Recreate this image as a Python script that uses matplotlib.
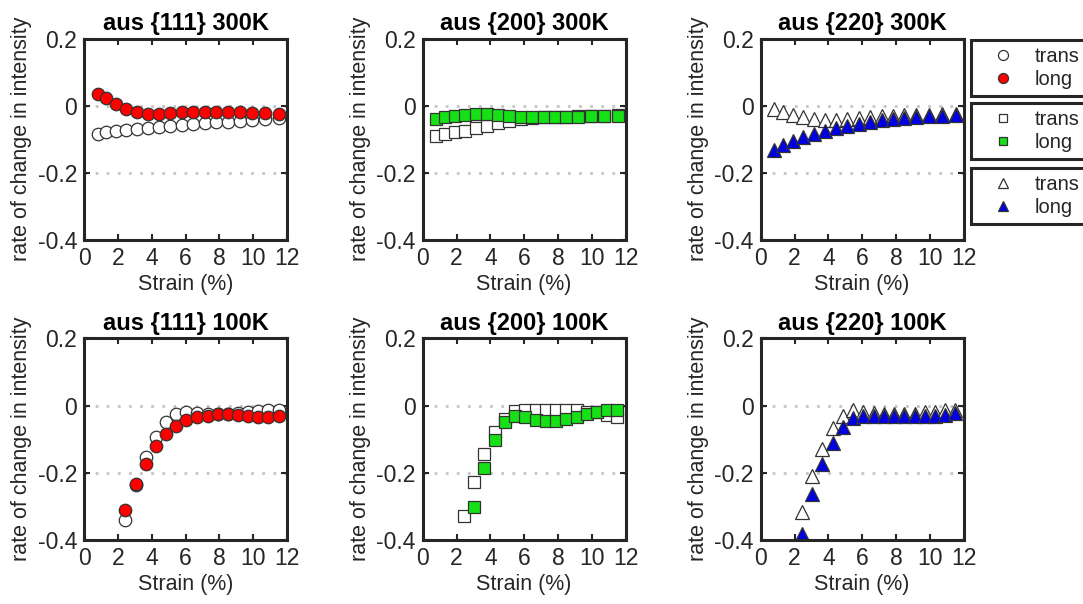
import numpy as np
import matplotlib
matplotlib.use("Agg")
import matplotlib.pyplot as plt

plt.rcParams['font.family'] = ['Liberation Sans', 'DejaVu Sans']

# strain steps (%)
x_300 = [0.8, 1.3, 1.9, 2.5, 3.15, 3.8, 4.45, 5.1, 5.8, 6.45, 7.15, 7.8, 8.5, 9.2, 9.95, 10.7, 11.55]
x_100 = [2.45, 3.05, 3.65, 4.25, 4.85, 5.45, 6.05, 6.7, 7.3, 7.9, 8.5, 9.1, 9.7, 10.3, 10.9, 11.5]

# rate of change in intensity, 300K
y111_300_trans = [-0.085, -0.079, -0.075, -0.072, -0.069, -0.065, -0.062, -0.060, -0.057,
                  -0.055, -0.052, -0.050, -0.048, -0.046, -0.043, -0.040, -0.036]
y111_300_long = [0.036, 0.023, 0.006, -0.010, -0.020, -0.025, -0.025, -0.022, -0.020,
                 -0.019, -0.019, -0.018, -0.019, -0.020, -0.021, -0.022, -0.024]
y200_300_trans = [-0.089, -0.084, -0.079, -0.074, -0.067, -0.060, -0.052, -0.045, -0.040,
                  -0.036, -0.035, -0.034, -0.033, -0.032, -0.031, -0.030, -0.029]
y200_300_long = [-0.040, -0.034, -0.030, -0.027, -0.025, -0.025, -0.027, -0.030, -0.033,
                 -0.034, -0.035, -0.035, -0.034, -0.034, -0.032, -0.031, -0.030]
y220_300_trans = [-0.010, -0.020, -0.028, -0.034, -0.039, -0.042, -0.042, -0.039, -0.037,
                  -0.034, -0.032, -0.030, -0.029, -0.028, -0.028, -0.026, -0.025]
y220_300_long = [-0.131, -0.118, -0.106, -0.094, -0.084, -0.074, -0.067, -0.060, -0.054,
                 -0.049, -0.044, -0.040, -0.037, -0.034, -0.032, -0.030, -0.028]

# rate of change in intensity, 100K
y111_100_trans = [-0.341, -0.236, -0.154, -0.092, -0.050, -0.026, -0.020, -0.023,
                  -0.025, -0.024, -0.024, -0.022, -0.018, -0.016, -0.014, -0.012]
y111_100_long = [-0.310, -0.234, -0.173, -0.121, -0.085, -0.060, -0.042, -0.034,
                 -0.030, -0.026, -0.026, -0.028, -0.031, -0.033, -0.033, -0.031]
y200_100_trans = [-0.330, -0.227, -0.144, -0.079, -0.039, -0.016, -0.014, -0.014,
                  -0.014, -0.014, -0.014, -0.014, -0.018, -0.020, -0.028, -0.033]
y200_100_long = [np.nan, -0.301, -0.185, -0.101, -0.049, -0.030, -0.035, -0.042,
                 -0.045, -0.045, -0.039, -0.033, -0.026, -0.020, -0.014, -0.012]
y220_100_trans = [-0.318, -0.210, -0.128, -0.067, -0.030, -0.013, -0.018, -0.023,
                  -0.025, -0.025, -0.025, -0.025, -0.020, -0.018, -0.013, -0.013]
y220_100_long = [-0.383, -0.264, -0.175, -0.111, -0.064, -0.037, -0.032, -0.030,
                 -0.030, -0.032, -0.032, -0.032, -0.032, -0.032, -0.028, -0.023]

planes = ['{111}', '{200}', '{220}']
markers = ['o', 's', '^']
msizes = [9, 8.5, 10.5]
leg_scale = [0.8, 0.6, 0.75]
colors = ['#ff0000', '#16e016', '#0000e0']

data = {
    ('300K', 0): (x_300, y111_300_trans, y111_300_long),
    ('300K', 1): (x_300, y200_300_trans, y200_300_long),
    ('300K', 2): (x_300, y220_300_trans, y220_300_long),
    ('100K', 0): (x_100, y111_100_trans, y111_100_long),
    ('100K', 1): (x_100, y200_100_trans, y200_100_long),
    ('100K', 2): (x_100, y220_100_trans, y220_100_long),
}

dark = '#262626'
fig = plt.figure(figsize=(10.83, 6.04), dpi=100)

lefts = [0.0776, 0.3903, 0.7024]
bottoms = {'300K': 0.6026, '100K': 0.106}
w, h = 0.1874, 0.3336

legend_handles = []
for temp in ['300K', '100K']:
    for j in range(3):
        ax = fig.add_axes([lefts[j], bottoms[temp], w, h])
        x, yt, yl = data[(temp, j)]
        ht, = ax.plot(x, yt, linestyle='none', marker=markers[j], ms=msizes[j],
                      mfc='white', mec='#333333', mew=0.9, label='trans')
        hl, = ax.plot(x, yl, linestyle='none', marker=markers[j], ms=msizes[j],
                      mfc=colors[j], mec='#333333', mew=0.9, label='long')
        if temp == '300K':
            legend_handles.append((ht, hl))

        ax.set_xlim(0, 12)
        ax.set_ylim(-0.4, 0.2)
        ax.set_xticks(range(0, 13, 2))
        ax.set_yticks([-0.4, -0.2, 0, 0.2])
        ax.set_yticklabels(['-0.4', '-0.2', '0', '0.2'])
        ax.yaxis.grid(True, linestyle=(0, (1, 3)), color='#c4c4c4', linewidth=2)
        ax.set_axisbelow(True)
        ax.tick_params(direction='in', top=True, right=True, length=4, width=1.5,
                       colors=dark, labelsize=16.5, pad=5)
        for sp in ax.spines.values():
            sp.set_linewidth(2.2)
            sp.set_color(dark)
        ax.set_title('aus %s %s' % (planes[j], temp), fontsize=17, fontweight='bold', pad=6)
        ax.set_xlabel('Strain (%)', fontsize=15.5, color=dark, labelpad=3)
        ax.set_ylabel('rate of change in intensity', fontsize=15.5, color=dark, labelpad=4)

# one legend box per reflection, stacked to the right of the top row
tops = [0.9338, 0.8295, 0.722]
for (ht, hl), top, sc in zip(legend_handles, tops, leg_scale):
    leg = fig.legend([ht, hl], ['trans', 'long'], loc='upper left',
                     bbox_to_anchor=(0.8966, top - 0.2, 0.2, 0.2), mode='expand',
                     fontsize=14.5, frameon=True, fancybox=False, framealpha=1,
                     edgecolor=dark, handlelength=2.5, handletextpad=0.3,
                     labelspacing=0.2, borderpad=0.35, markerscale=sc,
                     borderaxespad=0)
    leg.get_frame().set_linewidth(2.2)
    for t in leg.get_texts():
        t.set_color(dark)

fig.savefig('out.png', dpi=100)
